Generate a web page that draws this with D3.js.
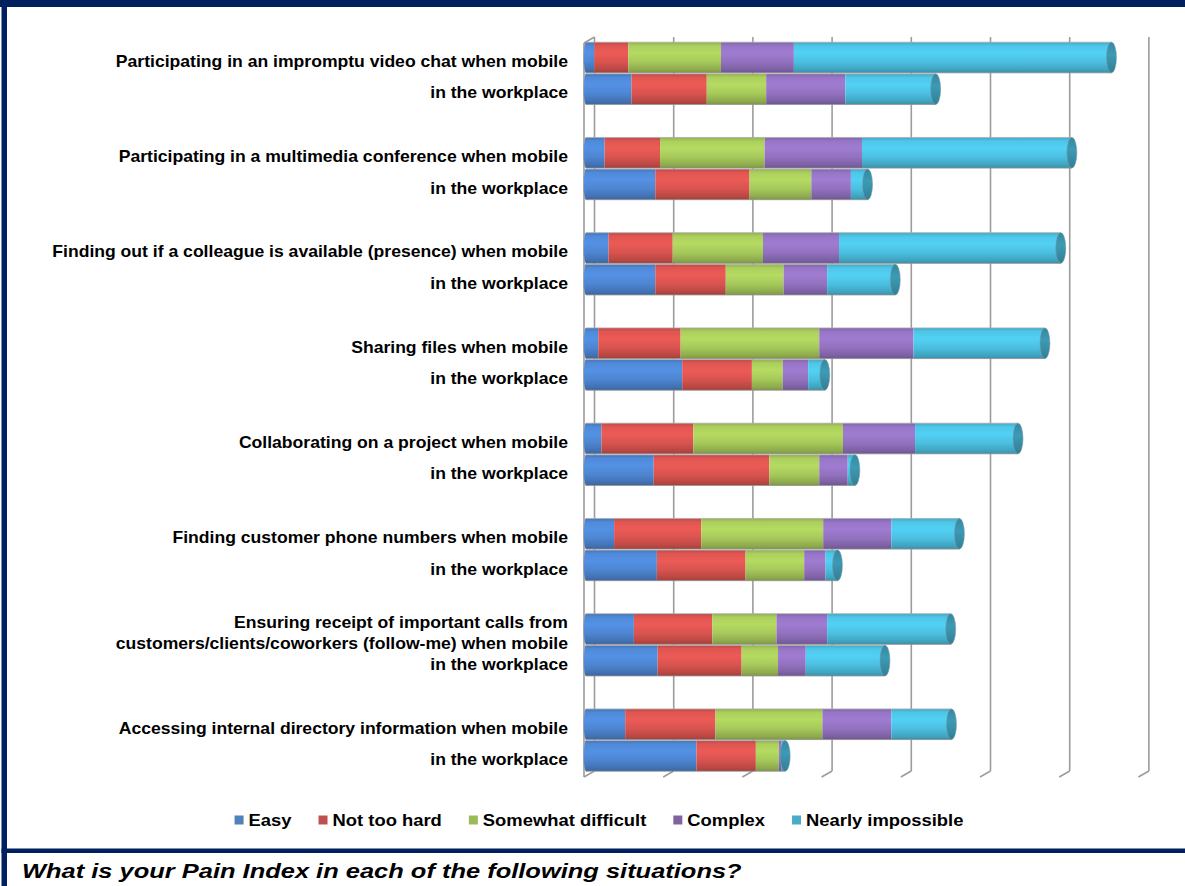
<!DOCTYPE html>
<html>
<head>
<meta charset="utf-8">
<script src="https://cdn.jsdelivr.net/npm/d3@7"></script>
<style>
html,body{margin:0;padding:0;background:#fff;}
svg{display:block;}
text{font-family:"Liberation Sans",Arial,Helvetica,sans-serif;font-weight:bold;fill:#000;}
</style>
</head>
<body>
<svg id="chart" width="1185" height="886"></svg>
<script>
// ---------- data ----------
const seriesNames = ["Easy", "Not too hard", "Somewhat difficult", "Complex", "Nearly impossible"];
const mobileLabels = [
  ["Participating in an impromptu video chat when mobile"],
  ["Participating in a multimedia conference when mobile"],
  ["Finding out if a colleague is available (presence) when mobile"],
  ["Sharing files when mobile"],
  ["Collaborating on a project when mobile"],
  ["Finding customer phone numbers when mobile"],
  ["Ensuring receipt of important calls from", "customers/clients/coworkers (follow-me) when mobile"],
  ["Accessing internal directory information when mobile"]
];
const workplaceLabel = "in the workplace";
const rowTypes = ["mobile", "workplace"];
// values per row: [g1 mobile, g1 workplace, g2 mobile, g2 workplace, ...]
const easy              = [1.3, 6.0, 2.6, 9.0, 3.1, 9.0, 1.8, 12.4, 2.2, 8.8, 3.8, 9.2, 6.3, 9.3, 5.2, 14.2];
const notTooHard        = [4.3, 9.5, 7.0, 11.9, 8.1, 8.9, 10.4, 8.8, 11.6, 14.6, 11.0, 11.2, 9.9, 10.6, 11.4, 7.5];
const somewhatDifficult = [11.7, 7.5, 13.2, 7.8, 11.4, 7.3, 17.5, 3.9, 18.9, 6.3, 15.4, 7.4, 8.1, 4.6, 13.5, 2.9];
const complex           = [9.2, 10.0, 12.3, 5.0, 9.6, 5.5, 11.9, 3.2, 9.1, 3.6, 8.6, 2.7, 6.4, 3.5, 8.7, 0.3];
const nearlyImpossible  = [40.1, 11.4, 26.5, 2.1, 28.0, 8.6, 16.6, 2.1, 13.0, 0.9, 8.6, 1.5, 15.6, 10.0, 7.6, 0.5];
const axisTicks = [0, 10, 20, 30, 40, 50, 60, 70];
const titleText = "What is your Pain Index in each of the following situations?";

// ---------- styles ----------
const barColors = ["#4d85d1", "#d8534f", "#a6c85a", "#9271bf", "#4bbfe0"];
const legendColors = ["#4f81bd", "#c0504d", "#9bbb59", "#8064a2", "#4bacc6"];
const navy = "#002060";

const svg = d3.select("#chart");
const defs = svg.append("defs");

// gradients
barColors.forEach((c, i) => {
  const g = defs.append("linearGradient").attr("id", "g" + i)
    .attr("x1", 0).attr("y1", 0).attr("x2", 0).attr("y2", 1);
  const base = d3.color(c);
  g.append("stop").attr("offset", "0%").attr("stop-color", base.darker(0.35));
  g.append("stop").attr("offset", "12%").attr("stop-color", base.brighter(0.1));
  g.append("stop").attr("offset", "35%").attr("stop-color", base.brighter(0.25));
  g.append("stop").attr("offset", "65%").attr("stop-color", base);
  g.append("stop").attr("offset", "90%").attr("stop-color", base.darker(0.45));
  g.append("stop").attr("offset", "100%").attr("stop-color", base.darker(0.8));
});
{
  const g = defs.append("linearGradient").attr("id", "cap")
    .attr("x1", 0).attr("y1", 0).attr("x2", 0).attr("y2", 1);
  const base = d3.color(barColors[4]).darker(0.75);
  g.append("stop").attr("offset", "0%").attr("stop-color", base.darker(0.2));
  g.append("stop").attr("offset", "40%").attr("stop-color", base.brighter(0.15));
  g.append("stop").attr("offset", "100%").attr("stop-color", base.darker(0.4));
}

// ---------- frame ----------
svg.append("rect").attr("x", 0).attr("y", 0).attr("width", 1185).attr("height", 7).attr("fill", navy);
svg.append("rect").attr("x", 1.5).attr("y", 0).attr("width", 5.5).attr("height", 886).attr("fill", navy);
svg.append("rect").attr("x", 1.5).attr("y", 848.5).attr("width", 1184).attr("height", 4.5).attr("fill", navy);

// ---------- scales ----------
const x = d3.scaleLinear().domain([0, 70]).range([584, 584 + 7 * 79.2]);
const depthX = 10.5, depthY = -6;
const y0 = d3.scaleBand().domain(d3.range(mobileLabels.length)).range([41.7, 771.7]).paddingInner(0.336).paddingOuter(0);
const y1 = d3.scaleBand().domain(rowTypes).range([0, y0.bandwidth()]).padding(0);
const barH = y1.bandwidth() - 1;
const wallTop = 37, floorBack = 771, floorFront = floorBack - depthY;

// ---------- walls & gridlines ----------
const grid = svg.append("g").attr("stroke", "#9c9c9c").attr("stroke-width", 1.6).attr("fill", "none");
axisTicks.forEach(t => {
  const xb = x(t) + depthX;
  grid.append("line").attr("x1", xb).attr("x2", xb).attr("y1", wallTop).attr("y2", floorBack);
  grid.append("line").attr("x1", xb).attr("x2", x(t)).attr("y1", floorBack).attr("y2", floorFront);
});
grid.append("line").attr("x1", x(0)).attr("x2", x(0)).attr("y1", wallTop - depthY).attr("y2", floorFront);
grid.append("line").attr("x1", x(0)).attr("x2", x(0) + depthX).attr("y1", wallTop - depthY).attr("y2", wallTop);

// ---------- rows ----------
const seriesValues = [easy, notTooHard, somewhatDifficult, complex, nearlyImpossible];
const rows = [];
mobileLabels.forEach((lab, gi) => {
  rowTypes.forEach((rt, ri) => {
    const idx = gi * 2 + ri;
    let acc = 0;
    const segs = seriesValues.map((arr, si) => {
      const s = { si, x0: acc, x1: acc + arr[idx] };
      acc += arr[idx];
      return s;
    });
    rows.push({ gi, rt, segs, total: acc, label: rt === "mobile" ? lab : [workplaceLabel] });
  });
});

const bars = svg.append("g");
rows.forEach(r => {
  const top = y0(r.gi) + y1(r.rt) + 0.5;
  const g = bars.append("g");
  // left rounded end
  g.append("ellipse").attr("cx", x(0) + 2).attr("cy", top + barH / 2).attr("rx", 2.5).attr("ry", barH / 2)
    .attr("fill", "url(#g0)").attr("stroke", "#a8a8a8").attr("stroke-width", 0.6);
  r.segs.forEach(s => {
    if (s.x1 - s.x0 <= 0) return;
    const xa = s.si === 0 ? x(s.x0) + 2 : x(s.x0);
    g.append("rect").attr("x", xa).attr("y", top)
      .attr("width", Math.max(0, x(s.x1) - xa))
      .attr("height", barH).attr("fill", "url(#g" + s.si + ")");
  });
  g.append("line").attr("x1", x(0) + 2).attr("x2", x(r.total)).attr("y1", top).attr("y2", top)
    .attr("stroke", "#b0b0b0").attr("stroke-width", 0.8);
  g.append("line").attr("x1", x(0) + 2).attr("x2", x(r.total)).attr("y1", top + barH).attr("y2", top + barH)
    .attr("stroke", "#909090").attr("stroke-width", 0.8);
  // end cap
  g.append("ellipse").attr("cx", x(r.total)).attr("cy", top + barH / 2).attr("rx", 5).attr("ry", barH / 2)
    .attr("fill", "url(#cap)").attr("stroke", "#7a9aa5").attr("stroke-width", 0.5);

  // label
  const cy = top + barH / 2 + 3.5;
  const lh = 21;
  r.label.forEach((line, li) => {
    const ly = cy + (li - (r.label.length - 1) / 2) * lh;
    svg.append("text").attr("transform", `translate(568,${ly}) scale(1.1,1)`)
      .attr("text-anchor", "end").attr("dy", "0.36em").style("font-size", "16px").text(line);
  });
});

// ---------- legend ----------
const legend = svg.append("g");
const lsx = 1.15, sq = 9, gapTxt = 5, gapItem = 27;
const items = seriesNames.map((n, i) => {
  const g = legend.append("g");
  g.append("rect").attr("width", sq).attr("height", sq).attr("y", -sq / 2).attr("fill", legendColors[i]);
  const t = g.append("text").attr("transform", `translate(${sq + gapTxt},0) scale(${lsx},1)`)
    .attr("dy", "0.36em").style("font-size", "16px").text(n);
  const w = sq + gapTxt + t.node().getComputedTextLength() * lsx;
  return { g, w };
});
const totalW = d3.sum(items, d => d.w) + gapItem * (items.length - 1);
let lx = 599 - totalW / 2;
items.forEach(it => { it.g.attr("transform", `translate(${lx},820)`); lx += it.w + gapItem; });

// ---------- title ----------
svg.append("text").attr("transform", "translate(22,878) scale(1.212,1)")
  .style("font-size", "21px").style("font-style", "italic").text(titleText);
</script>
</body>
</html>
